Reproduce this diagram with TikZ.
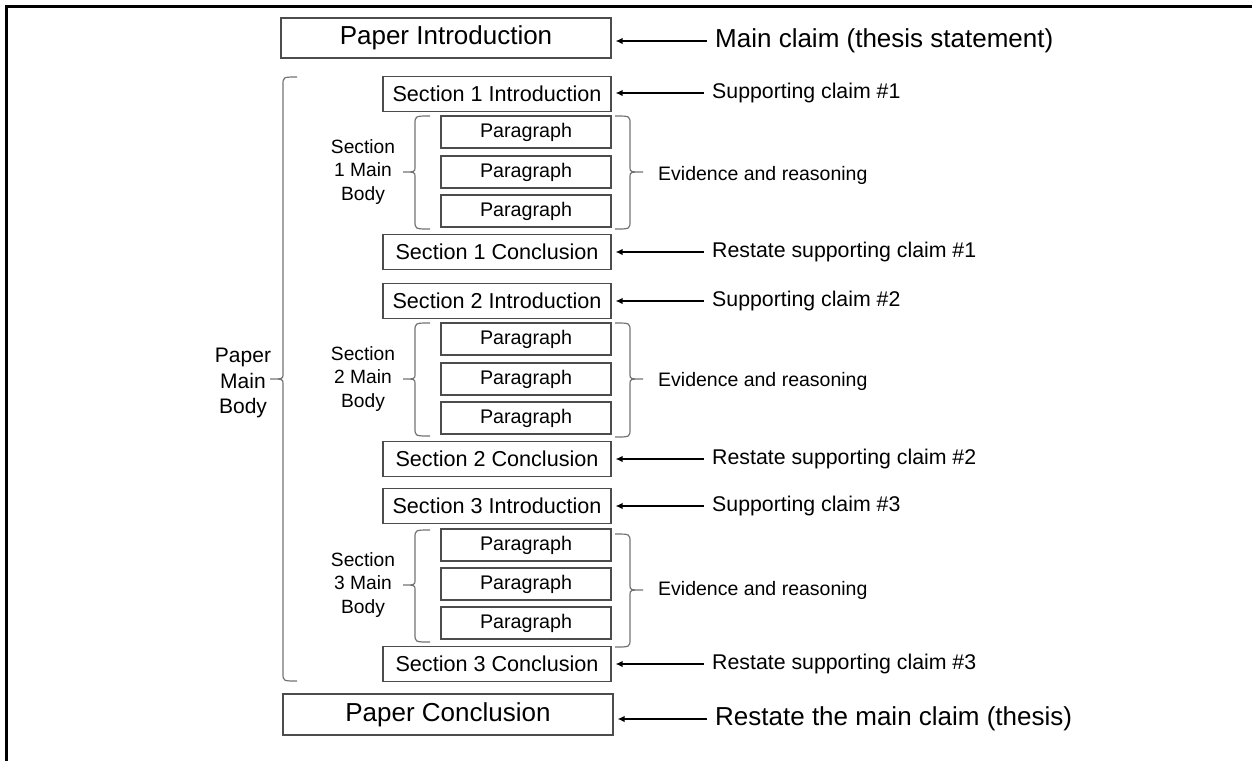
\documentclass[tikz,border=0pt]{standalone}
\usepackage{fontspec}
\setmainfont{Liberation Sans}
\usetikzlibrary{arrows.meta}
\newcommand{\mybrace}[6]{%
  \draw[bracestyle] (#1,#4) .. controls (#2,#4) .. (#2,#4+8) -- (#2,#6-5)
    .. controls (#2,#6) .. (#3,#6) .. controls (#2,#6) .. (#2,#6+5)
    -- (#2,#5-8) .. controls (#2,#5) .. (#1,#5);}
\begin{document}
\begin{tikzpicture}[x=1pt,y=-1pt,
  mybox/.style={draw=black!70, line width=1.1pt, inner sep=0pt, text=black},
  bigbox/.style={mybox, minimum width=330pt, minimum height=40pt, font=\fontsize{26}{30}\selectfont},
  secbox/.style={mybox, minimum width=228pt, minimum height=34.5pt, font=\fontsize{21.6}{26}\selectfont},
  parbox/.style={mybox, minimum width=170pt, minimum height=32pt, font=\fontsize{19.7}{24}\selectfont},
  arr/.style={-{Latex[length=7pt,width=6.5pt]}, line width=2pt, black, shorten <=8pt, shorten >=4pt},
  biglab/.style={anchor=west, inner sep=0pt, text=black, font=\fontsize{26}{30}\selectfont},
  lab/.style={anchor=west, inner sep=0pt, text=black, font=\fontsize{21.3}{26}\selectfont},
  evlab/.style={anchor=west, inner sep=0pt, text=black, font=\fontsize{19.5}{24}\selectfont},
  sidelab/.style={align=center, inner sep=0pt, text=black, font=\fontsize{19.2}{23.5}\selectfont},
  mainlab/.style={align=center, inner sep=0pt, text=black, font=\fontsize{21}{25.5}\selectfont},
  bracestyle/.style={draw=black!55, line width=1.2pt}]
\useasboundingbox (0,0) rectangle (1252,761);
\draw[line width=3pt, miter limit=10] (6.5,761) -- (6.5,6) -- (1252,6);

% boxes
\node[bigbox] (pintro) at (446,38) {Paper Introduction};
\node[secbox] (s1i) at (497,94) {Section 1 Introduction};
\node[parbox] (p11) at (526,132) {Paragraph};
\node[parbox] (p12) at (526,172) {Paragraph};
\node[parbox] (p13) at (526,211) {Paragraph};
\node[secbox] (s1c) at (497,252) {Section 1 Conclusion};
\node[secbox] (s2i) at (497,301) {Section 2 Introduction};
\node[parbox] (p21) at (526,339) {Paragraph};
\node[parbox] (p22) at (526,379) {Paragraph};
\node[parbox] (p23) at (526,418) {Paragraph};
\node[secbox] (s2c) at (497,459) {Section 2 Conclusion};
\node[secbox] (s3i) at (497,506) {Section 3 Introduction};
\node[parbox] (p31) at (526,545) {Paragraph};
\node[parbox] (p32) at (526,584) {Paragraph};
\node[parbox] (p33) at (526,623) {Paragraph};
\node[secbox] (s3c) at (497,664) {Section 3 Conclusion};
\node[bigbox, minimum height=41pt] (pconc) at (448,714.5) {Paper Conclusion};

% right labels
\node[biglab] (lmain) at (715,41) {Main claim (thesis statement)};
\node[lab] (l1i) at (712,93) {Supporting claim \#1};
\node[evlab] (e1) at (658,175) {Evidence and reasoning};
\node[lab] (l1c) at (712,252) {Restate supporting claim \#1};
\node[lab] (l2i) at (712,301) {Supporting claim \#2};
\node[evlab] (e2) at (658,381) {Evidence and reasoning};
\node[lab] (l2c) at (712,459) {Restate supporting claim \#2};
\node[lab] (l3i) at (712,506) {Supporting claim \#3};
\node[evlab] (e3) at (658,590) {Evidence and reasoning};
\node[lab] (l3c) at (712,664) {Restate supporting claim \#3};
\node[biglab] (lconc) at (715,719) {Restate the main claim (thesis)};

% left labels
\node[sidelab] (sb1) at (363,172) {Section\\1 Main\\Body};
\node[sidelab] (sb2) at (363,379) {Section\\2 Main\\Body};
\node[sidelab] (sb3) at (363,585) {Section\\3 Main\\Body};
\node[mainlab] (pmb) at (243,383) {Paper\\Main\\Body};

% arrows
\draw[arr] (lmain.west) -- (lmain.west -| pintro.east);
\draw[arr] (l1i.west) -- (l1i.west -| s1i.east);
\draw[arr] (l1c.west) -- (l1c.west -| s1c.east);
\draw[arr] (l2i.west) -- (l2i.west -| s2i.east);
\draw[arr] (l2c.west) -- (l2c.west -| s2c.east);
\draw[arr] (l3i.west) -- (l3i.west -| s3i.east);
\draw[arr] (l3c.west) -- (l3c.west -| s3c.east);
\draw[arr] (lconc.west) -- (lconc.west -| pconc.east);

% braces
\mybrace{297}{283}{270}{77}{681}{379}
\mybrace{430}{415}{403}{116}{229}{172}
\mybrace{430}{415}{403}{323}{436}{379}
\mybrace{430}{415}{403}{530}{642}{585}
\mybrace{615}{630}{643}{116}{229}{172}
\mybrace{615}{630}{643}{323}{437}{379}
\mybrace{615}{630}{643}{534}{647}{590}
\end{tikzpicture}
\end{document}
